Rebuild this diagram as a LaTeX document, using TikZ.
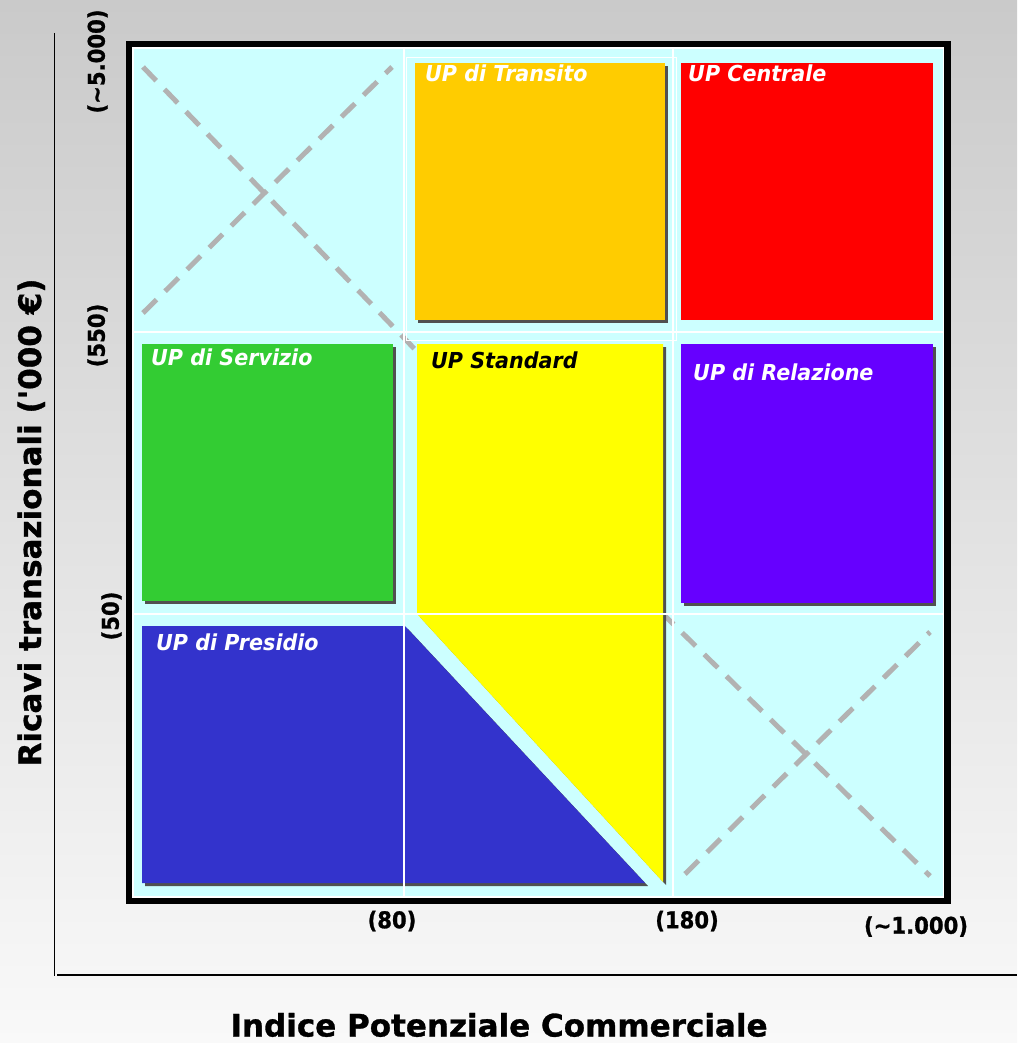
\documentclass[tikz,border=0pt]{standalone}
\usepackage{fontspec}
\setmainfont{DejaVu Sans}[BoldFeatures={FakeBold=1}]
\newfontfamily\lblfont{DejaVu Sans}[FakeStretch=0.94,BoldFeatures={FakeBold=1}]
\newfontfamily\tickfont{DejaVu Sans}[FakeStretch=0.92,BoldFeatures={FakeBold=1}]
\newfontfamily\titlefont{DejaVu Sans}[Ligatures=TeXOff,BoldFeatures={FakeBold=1}]
\definecolor{bgtop}{RGB}{202,202,202}
\definecolor{bgbot}{RGB}{249,249,249}
\definecolor{cellcyan}{RGB}{204,255,255}
\definecolor{uporange}{RGB}{255,204,0}
\definecolor{upred}{RGB}{255,0,0}
\definecolor{upgreen}{RGB}{51,204,51}
\definecolor{upyellow}{RGB}{255,255,0}
\definecolor{uppurple}{RGB}{102,0,255}
\definecolor{upblue}{RGB}{51,51,204}
\definecolor{shadowgray}{RGB}{80,80,80}
\definecolor{dashgray}{RGB}{178,178,178}
\begin{document}
\begin{tikzpicture}[x=1pt,y=-1pt,
  shadowbox/.style={fill=shadowgray,draw=none},
  gridline/.style={draw=white,line width=1.5pt},
  crossline/.style={draw=dashgray,line width=5pt,dash pattern=on 19pt off 12pt},
  boxlabel/.style={anchor=base west,inner sep=0pt,text=white,
    font=\lblfont\fontsize{22}{26}\selectfont\bfseries\itshape},
  ticklabel/.style={inner sep=0pt,font=\tickfont\fontsize{23}{26}\selectfont\bfseries},
  axistitle/.style={inner sep=0pt,font=\titlefont\fontsize{31}{36}\selectfont\bfseries}
]
\useasboundingbox (0,0) rectangle (1017,1043);
% background
\shade[top color=bgtop,bottom color=bgbot] (0,0) rectangle (1017,1043);
% axis lines
\coordinate (ytop) at (54.5,33);
\coordinate (ybot) at (54.5,976);
\coordinate (xleft) at (57,974.5);
\coordinate (xright) at (1017,974.5);
\draw[line width=1.5pt] (ytop) -- (ybot);
\draw[line width=2pt] (xleft) -- (xright);
% frame and field
\draw[line width=7pt] (129.5,44.5) rectangle (947,900.5);
\fill[cellcyan] (133,48) rectangle (943.5,897);
% dashed crosses
\coordinate (a1s) at (143,67);  \coordinate (a1e) at (430,365);
\coordinate (a2s) at (143,313); \coordinate (a2e) at (392,67);
\coordinate (b1s) at (660,611); \coordinate (b1e) at (930,876);
\coordinate (b2s) at (685,874); \coordinate (b2e) at (930,632);
\draw[crossline] (a1s) -- (a1e);
\draw[crossline] (a2s) -- (a2e);
\draw[crossline] (b1s) -- (b1e);
\draw[crossline] (b2s) -- (b2e);
% shadows
\fill[shadowbox] (418,66) rectangle (668,323);
\fill[shadowbox] (145,347) rectangle (396,604);
\fill[shadowbox] (420,347) -- (666,347) -- (666,885) -- (420,617) -- cycle;
\fill[shadowbox] (684,347) rectangle (936,606);
\fill[shadowbox] (145,629) -- (408,629) -- (648,886) -- (145,886) -- cycle;
% coloured areas
\fill[uporange] (415,63) rectangle (665,320);
\fill[upred] (681,63) rectangle (933,320);
\fill[upgreen] (142,344) rectangle (393,601);
\fill[upyellow] (417,344) -- (663,344) -- (663,882) -- (417,614) -- cycle;
\fill[uppurple] (681,344) rectangle (933,603);
\fill[upblue] (142,626) -- (405,626) -- (645,883) -- (142,883) -- cycle;
% white grid
\draw[gridline] (133,48) rectangle (943.5,897);
\draw[gridline] (404,48) -- (404,897);
\draw[gridline] (673,48) -- (673,897);
\draw[gridline] (133,332) -- (943.5,332);
\draw[gridline] (133,614) -- (943.5,614);
\draw[draw=white,line width=1pt] (406,58) rectangle (676,340);
% box labels
\node[boxlabel] (transito) at (425,82) {UP di Transito};
\node[boxlabel] (centrale) at (688,82) {UP Centrale};
\node[boxlabel] (servizio) at (151,365.5) {UP di Servizio};
\node[boxlabel,text=black] (standard) at (431,368) {UP Standard};
\node[boxlabel] (relazione) at (693,380.5) {UP di Relazione};
\node[boxlabel] (presidio) at (156,650) {UP di Presidio};
% tick labels
\node[ticklabel,rotate=90] (t5000) at (97.5,61.5) {(\textasciitilde5.000)};
\node[ticklabel,rotate=90] (t550) at (97.5,335.5) {(550)};
\node[ticklabel,rotate=90] (t50) at (111.5,616) {(50)};
\node[ticklabel] (t80) at (392,921) {(80)};
\node[ticklabel] (t180) at (687,921) {(180)};
\node[ticklabel] (t1000) at (916,926.5) {(\textasciitilde1.000)};
% axis titles
\node[axistitle,anchor=base] (xtitle) at (499,1036.5) {Indice Potenziale Commerciale};
\node[axistitle,anchor=base,rotate=90] (ytitle) at (41,522.5) {Ricavi transazionali ('000 €)};
\end{tikzpicture}
\end{document}
